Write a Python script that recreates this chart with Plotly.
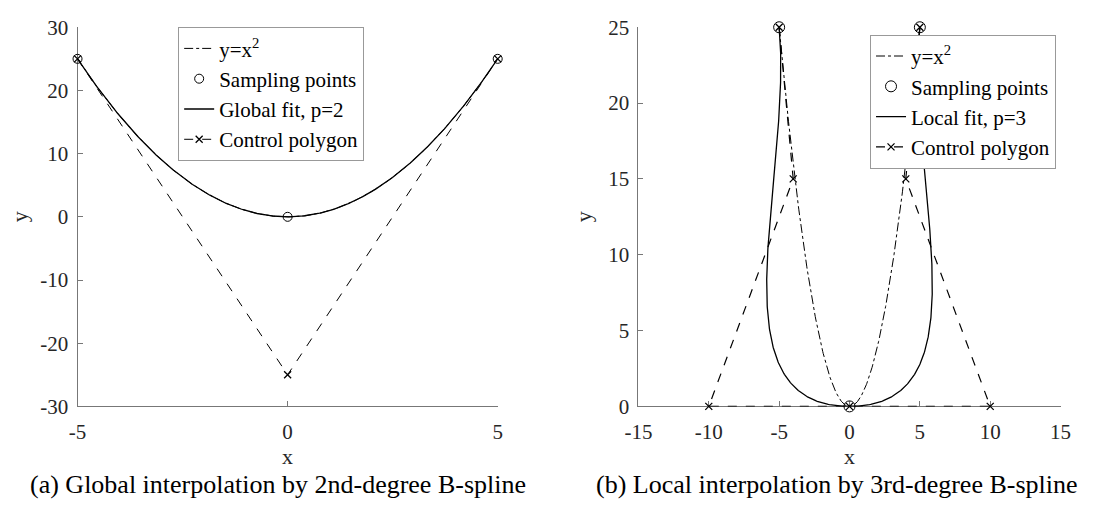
import numpy as np
import plotly.graph_objects as go

# Interpolated samples of y = x^2
samp_x = [-5, 0, 5]
samp_y = [25, 0, 25]

# Global quadratic B-spline (p = 2)
glob_ctrl_x = [-5, 0, 5]
glob_ctrl_y = [25, -25, 25]
glob_knots = [0, 0, 0, 1, 1, 1]
glob_deg = 2

# Local cubic B-spline (p = 3), two Bezier pieces joined at u = 0.5
loc_ctrl_x = [-5, -4, -10, 0, 10, 4, 5]
loc_ctrl_y = [25, 15, 0, 0, 0, 15, 25]
loc_knots = [0, 0, 0, 0, 0.5, 0.5, 0.5, 1, 1, 1, 1]
loc_deg = 3

# Axis ticks
left_xticks = [-5, 0, 5]
left_yticks = [-30, -20, -10, 0, 10, 20, 30]
right_xticks = [-15, -10, -5, 0, 5, 10, 15]
right_yticks = [0, 5, 10, 15, 20, 25]


def de_boor(ctrl_x, ctrl_y, knots, p, n=600):
    """Evaluate a B-spline curve with de Boor's algorithm."""
    P = np.column_stack([ctrl_x, ctrl_y]).astype(float)
    t = np.asarray(knots, dtype=float)
    us = np.linspace(t[p], t[len(t) - p - 1], n)
    out = []
    last_span = len(P) - 1
    for u in us:
        if u >= t[len(t) - p - 1]:
            k = last_span
        else:
            k = int(np.searchsorted(t, u, side="right") - 1)
        d = [P[j + k - p].copy() for j in range(p + 1)]
        for r in range(1, p + 1):
            for j in range(p, r - 1, -1):
                den = t[j + 1 + k - r] - t[j + k - p]
                a = 0.0 if den == 0 else (u - t[j + k - p]) / den
                d[j] = (1 - a) * d[j - 1] + a * d[j]
        out.append(d[p])
    out = np.array(out)
    return out[:, 0], out[:, 1]


par_x = np.linspace(-5, 5, 301)
par_y = par_x ** 2

gx, gy = de_boor(glob_ctrl_x, glob_ctrl_y, glob_knots, glob_deg)
lx, ly = de_boor(loc_ctrl_x, loc_ctrl_y, loc_knots, loc_deg)

FONT = "'Liberation Serif', 'Times New Roman', Times, serif"
INK = "#000000"
AXC = "#262626"

fig = go.Figure()

# ---- (a) global interpolation ----
fig.add_trace(go.Scatter(x=par_x, y=par_y, mode="lines", name="y=x<sup>2</sup>",
                         line=dict(color=INK, width=1, dash="dashdot"),
                         xaxis="x", yaxis="y", legend="legend", cliponaxis=False))
fig.add_trace(go.Scatter(x=samp_x, y=samp_y, mode="markers", name="Sampling points",
                         marker=dict(symbol="circle-open", size=9, color=INK, line=dict(width=1)),
                         xaxis="x", yaxis="y", legend="legend", cliponaxis=False))
fig.add_trace(go.Scatter(x=gx, y=gy, mode="lines", name="Global fit, p=2",
                         line=dict(color=INK, width=1.3),
                         xaxis="x", yaxis="y", legend="legend", cliponaxis=False))
fig.add_trace(go.Scatter(x=glob_ctrl_x, y=glob_ctrl_y, mode="lines+markers", name="Control polygon",
                         line=dict(color=INK, width=1, dash="dash"),
                         marker=dict(symbol="x-thin-open", size=7, color=INK, line=dict(width=1.3, color=INK)),
                         xaxis="x", yaxis="y", legend="legend", cliponaxis=False))

# ---- (b) local interpolation ----
fig.add_trace(go.Scatter(x=par_x, y=par_y, mode="lines", name="y=x<sup>2</sup>",
                         line=dict(color=INK, width=1, dash="dashdot"),
                         xaxis="x2", yaxis="y2", legend="legend2", cliponaxis=False))
fig.add_trace(go.Scatter(x=samp_x, y=samp_y, mode="markers", name="Sampling points",
                         marker=dict(symbol="circle-open", size=11, color=INK, line=dict(width=1)),
                         xaxis="x2", yaxis="y2", legend="legend2", cliponaxis=False))
fig.add_trace(go.Scatter(x=lx, y=ly, mode="lines", name="Local fit, p=3",
                         line=dict(color=INK, width=1.3),
                         xaxis="x2", yaxis="y2", legend="legend2", cliponaxis=False))
fig.add_trace(go.Scatter(x=loc_ctrl_x, y=loc_ctrl_y, mode="lines+markers", name="Control polygon",
                         line=dict(color=INK, width=1.2, dash="dash"),
                         marker=dict(symbol="x-thin-open", size=7, color=INK, line=dict(width=1.3, color=INK)),
                         xaxis="x2", yaxis="y2", legend="legend2", cliponaxis=False))

W, H = 1096, 507


def px_x(v):
    return v / W


def px_y(v):
    return 1 - v / H


def labels(vals):
    # plain hyphen-minus for negative ticks
    return [str(v) for v in vals]


axis_common = dict(showline=True, linecolor="#777777", linewidth=1, ticks="inside", ticklen=5,
                   tickcolor="#777777", showgrid=False, zeroline=False, mirror=False,
                   layer="below traces",
                   tickfont=dict(family=FONT, size=21, color=AXC),
                   title_font=dict(family=FONT, size=22, color=AXC))

fig.update_layout(
    width=W, height=H,
    margin=dict(l=0, r=0, t=0, b=0),
    paper_bgcolor="white", plot_bgcolor="white",
    font=dict(family=FONT, color=INK),
    xaxis=dict(domain=[px_x(65), px_x(495)], range=[-5, 5], tickvals=left_xticks,
               ticktext=labels(left_xticks), ticklabelstandoff=6,
               title=dict(text="x", standoff=0), anchor="y", **axis_common),
    yaxis=dict(domain=[px_y(414), px_y(16)], range=[-30, 30], tickvals=left_yticks,
               ticktext=labels(left_yticks), ticklabelstandoff=4,
               title=dict(text="y", standoff=6), anchor="x", **axis_common),
    xaxis2=dict(domain=[px_x(639), px_x(1071)], range=[-15, 15], tickvals=right_xticks,
                ticktext=labels(right_xticks), ticklabelstandoff=6,
                title=dict(text="x", standoff=0), anchor="y2", **axis_common),
    yaxis2=dict(domain=[px_y(414), px_y(16)], range=[0, 25], tickvals=right_yticks,
                ticktext=labels(right_yticks), ticklabelstandoff=4,
                title=dict(text="y", standoff=10), anchor="x2", **axis_common),
    legend=dict(x=px_x(168), y=px_y(16), xanchor="left", yanchor="top",
                bgcolor="white", bordercolor="#999999", borderwidth=1,
                font=dict(family=FONT, size=21, color=INK), tracegroupgap=0),
    legend2=dict(x=px_x(876), y=px_y(24), xanchor="left", yanchor="top",
                 bgcolor="white", bordercolor="#999999", borderwidth=1,
                 font=dict(family=FONT, size=21, color=INK), tracegroupgap=0),
    annotations=[
        dict(text="(a) Global interpolation by 2nd-degree B-spline", x=px_x(270), y=px_y(496),
             xref="paper", yref="paper", showarrow=False, xanchor="center", yanchor="middle",
             font=dict(family=FONT, size=26, color=INK)),
        dict(text="(b) Local interpolation by 3rd-degree B-spline", x=px_x(842), y=px_y(496),
             xref="paper", yref="paper", showarrow=False, xanchor="center", yanchor="middle",
             font=dict(family=FONT, size=26, color=INK)),
    ],
)

fig.write_html("out.html")
